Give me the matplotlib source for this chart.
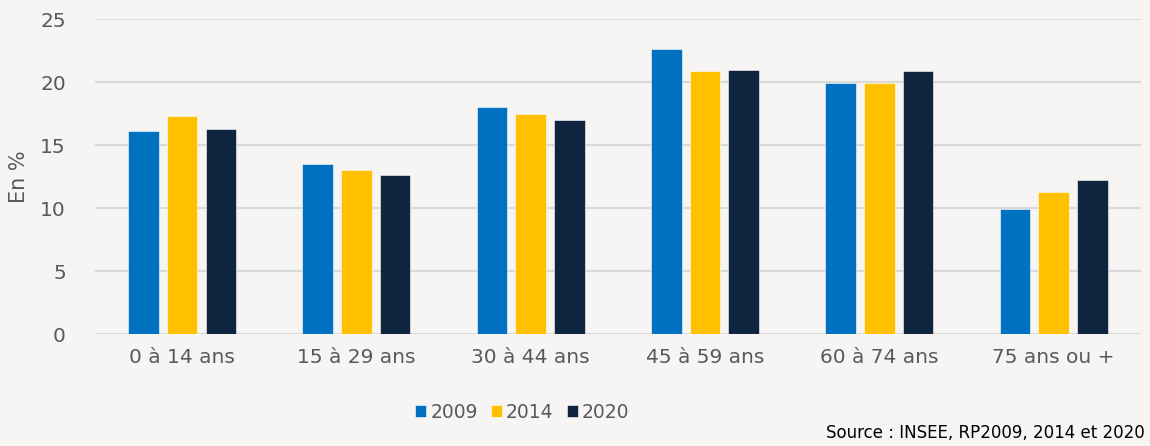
import numpy as np
import matplotlib.pyplot as plt

categories = ['0 à 14 ans', '15 à 29 ans', '30 à 44 ans', '45 à 59 ans', '60 à 74 ans', '75 ans ou +']
v2009 = [16.1, 13.5, 18.0, 22.6, 19.9, 9.9]
v2014 = [17.3, 13.0, 17.5, 20.9, 19.9, 11.3]
v2020 = [16.3, 12.6, 17.0, 21.0, 20.9, 12.2]
series = [('2009', v2009, '#0070c0'), ('2014', v2014, '#ffc000'), ('2020', v2020, '#0f243e')]

bg = '#f6f5f3'
grey = '#595959'
plt.rcParams['font.family'] = ['DejaVu Sans']

fig = plt.figure(figsize=(11.5, 4.46), dpi=100, facecolor=bg)
ax = fig.add_axes([0.0826, 0.251, 0.9094, 0.706], facecolor=bg)

x = np.arange(len(categories))
w = 0.175
step = 0.222
for i, (name, vals, col) in enumerate(series):
    ax.bar(x + (i - 1) * step, vals, w, color=col, label=name, zorder=3,
           edgecolor='white', linewidth=0.4)

ax.set_xlim(-0.5, len(categories) - 0.5)
ax.set_ylim(0, 25)
ax.set_yticks(range(0, 26, 5))
ax.yaxis.grid(True, color='#d9d9d9', linewidth=1.5, zorder=0)
for s in ax.spines.values():
    s.set_visible(False)
ax.tick_params(length=0, labelsize=14.5, colors=grey)
ax.tick_params(axis='y', pad=21)
ax.tick_params(axis='x', pad=10)
ax.set_xticks(x)
ax.set_xticklabels(categories)
ax.set_ylabel('En %', fontsize=15, color=grey)
ax.yaxis.set_label_coords(-0.063, 0.5)

leg = fig.legend(loc='center', bbox_to_anchor=(0.454, 0.076), ncol=3, frameon=False,
                 fontsize=13.5, handlelength=0.6, handleheight=0.6, handletextpad=0.2,
                 columnspacing=0.7)
for t in leg.get_texts():
    t.set_color(grey)

fig.text(0.995, 0.03, 'Source : INSEE, RP2009, 2014 et 2020', ha='right', va='center',
         fontsize=12, color='black', family=['Liberation Sans Narrow', 'DejaVu Sans'])

fig.savefig('out.png', dpi=100, facecolor=bg)
